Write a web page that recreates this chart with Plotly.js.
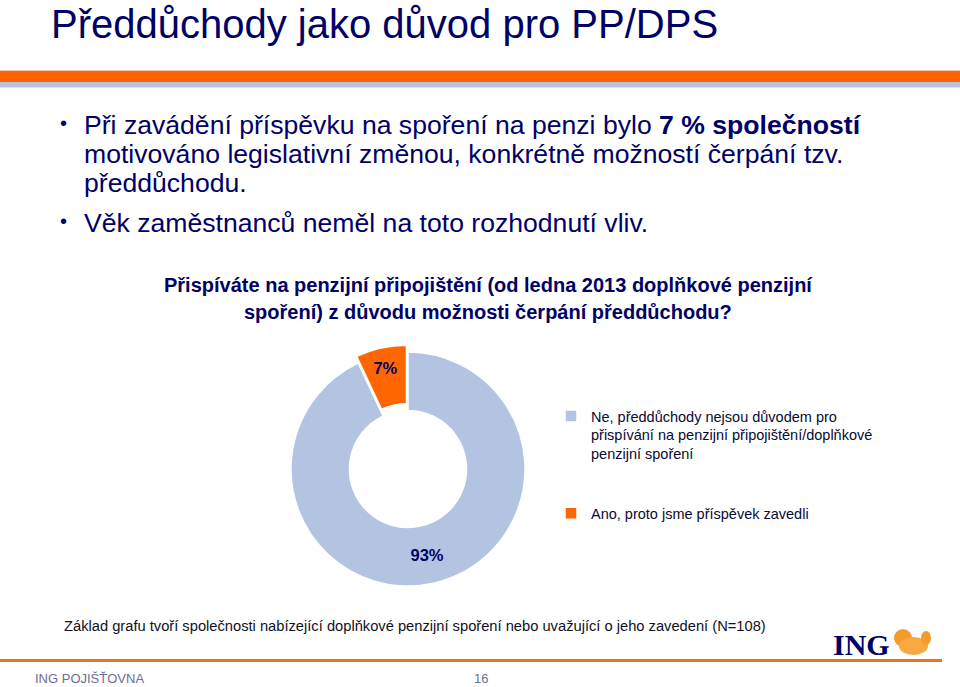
<!DOCTYPE html>
<html>
<head>
<meta charset="utf-8">
<script src="https://cdn.plot.ly/plotly-3.0.1.min.js"></script>
<style>html,body{margin:0;padding:0;background:#fff;}#chart{width:960px;height:687px;}</style>
</head>
<body>
<div id="chart"></div>
<script>
// ---- data ----
const categories = [
  'Ne, předdůchody nejsou důvodem pro<br>přispívání na penzijní připojištění/doplňkové<br>penzijní spoření<br> <br> ',
  'Ano, proto jsme příspěvek zavedli'
];
const values = [93, 7];
const sliceColors = ['#B3C4E2', '#FF6600'];
const pulls = [0, 0.06];

const pageTitle = 'Předdůchody jako důvod pro PP/DPS';
const bulletLines = [
  'Při zavádění příspěvku na spoření na penzi bylo <b>7 % společností</b>',
  'motivováno legislativní změnou, konkrétně možností čerpání tzv.',
  'předdůchodu.',
  'Věk zaměstnanců neměl na toto rozhodnutí vliv.'
];
const questionLines = [
  'Přispíváte na penzijní připojištění (od ledna 2013 doplňkové penzijní',
  'spoření) z důvodu možnosti čerpání předdůchodu?'
];
const footnote = 'Základ grafu tvoří společnosti nabízející doplňkové penzijní spoření nebo uvažující o jeho zavedení (N=108)';
const footerLeft = 'ING POJIŠŤOVNA';
const pageNumber = '16';

// ---- helpers ----
const W = 960, H = 687;
const px = x => x / W;
const py = y => 1 - y / H;
const NAVY = '#000066';
const FAM = 'Arial, Liberation Sans';

function ann(text, x, y, size, opts) {
  return Object.assign({
    text: text, x: px(x), y: py(y), xref: 'paper', yref: 'paper',
    xanchor: 'left', yanchor: 'middle', showarrow: false,
    font: {family: FAM, size: size, color: NAVY}
  }, opts || {});
}

const cx = 408, cy = 469, R = 117 * 1.06;

const trace = {
  type: 'pie',
  labels: categories,
  values: values,
  sort: false,
  direction: 'clockwise',
  rotation: 0,
  hole: 0.5,
  pull: pulls,
  marker: {colors: sliceColors, line: {color: '#ffffff', width: 1.5}},
  texttemplate: '<b>%{percent:.0%}</b>',
  textposition: 'inside',
  insidetextorientation: 'horizontal',
  textfont: {family: FAM, size: 16.5, color: NAVY},
  domain: {x: [px(cx - R), px(cx + R)], y: [py(cy + R), py(cy - R)]},
  hoverinfo: 'none'
};

const annotations = [
  ann(pageTitle, 49, 24, 40),
  ann('•', 58, 123, 20),
  ann(bulletLines[0], 82, 125, 26.6),
  ann(bulletLines[1], 82, 154, 26.6),
  ann(bulletLines[2], 82, 183, 26.6),
  ann('•', 58, 221, 20),
  ann(bulletLines[3], 82, 223, 26.6),
  ann('<b>' + questionLines[0] + '</b>', 488, 285, 20, {xanchor: 'center'}),
  ann('<b>' + questionLines[1] + '</b>', 488, 312, 20, {xanchor: 'center'}),
  ann(footnote, 62, 626, 14.7, {font: {family: FAM, size: 14.7, color: '#111122'}}),
  ann('<b>ING</b>', 831, 644, 30, {font: {family: 'Liberation Serif, Times New Roman', size: 30, color: NAVY}}),
  ann(footerLeft, 33, 678, 13, {font: {family: FAM, size: 13, color: '#6E6E90'}}),
  ann(pageNumber, 472, 678, 13, {font: {family: FAM, size: 13, color: '#6E6E90'}})
];

function rect(x0, y0, x1, y1, color) {
  return {type: 'rect', xref: 'paper', yref: 'paper', x0: px(x0), x1: px(x1), y0: py(y1), y1: py(y0),
          fillcolor: color, line: {width: 0}, layer: 'below'};
}
function circ(x0, y0, x1, y1, color) {
  return {type: 'circle', xref: 'paper', yref: 'paper', x0: px(x0), x1: px(x1), y0: py(y1), y1: py(y0),
          fillcolor: color, line: {width: 0}, layer: 'above'};
}

const shapes = [
  rect(0, 70, W, 71, '#F7C9A0'),
  rect(0, 71, W, 82, '#FF6200'),
  rect(0, 82, W, 87, '#B6C2DE'),
  rect(0, 87, W, 88, '#DCE2F0'),
  rect(0, 659, 942, 662, '#F07318'),
  // lion emblem (rough)
  circ(894, 629, 912, 647, '#F59B2C'),
  circ(899, 637, 928, 655, '#F7A840'),
  circ(921, 631, 931, 645, '#F59B2C')
];

const layout = {
  width: W, height: H,
  margin: {l: 0, r: 0, t: 0, b: 0},
  paper_bgcolor: '#ffffff',
  plot_bgcolor: '#ffffff',
  showlegend: true,
  legend: {
    x: px(551), y: py(400), xanchor: 'left', yanchor: 'top',
    valign: 'top', bgcolor: 'rgba(0,0,0,0)',
    font: {family: FAM, size: 14.5, color: '#0A0A33'},
    itemwidth: 30, traceorder: 'normal'
  },
  annotations: annotations,
  shapes: shapes,
  hovermode: false
};

Plotly.newPlot('chart', [trace], layout, {displayModeBar: false, staticPlot: true});
</script>
</body>
</html>
